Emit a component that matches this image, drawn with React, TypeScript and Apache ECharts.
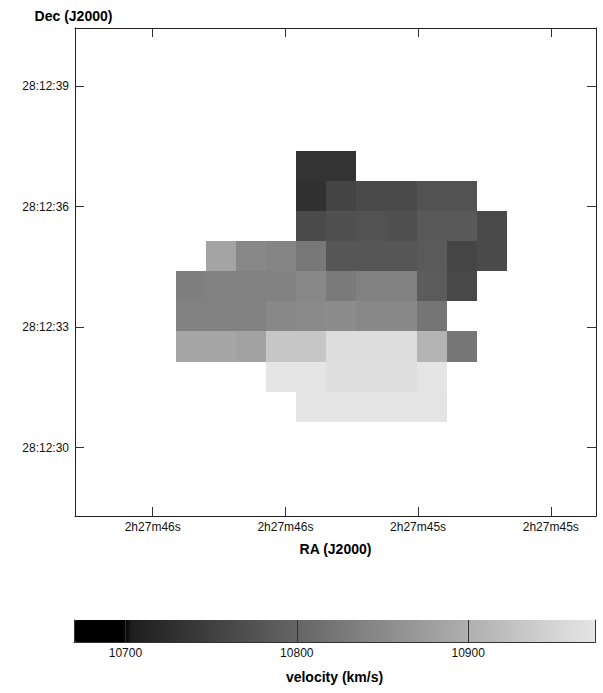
import React, { useEffect, useRef } from 'react';
import * as echarts from 'echarts';

// ---- axis ticks ----
const raTickValues = [45.75, 45.5, 45.25, 45.0];
const raTickLabels = ['2h27m46s', '2h27m46s', '2h27m45s', '2h27m45s'];
const decTickValues = [30, 33, 36, 39];
const decTickLabels = ['28:12:30', '28:12:33', '28:12:36', '28:12:39'];
const velocityTickValues = [10700, 10800, 10900];
const velocityTickLabels = ['10700', '10800', '10900'];

// ---- pixel grid (RA seconds of 2h27m, Dec arcsec of 28:12) ----
const RA_COL0 = 45.6783; // centre of column 0
const DEC_ROW0 = 37.019; // centre of row 0
const PIX_RA = 0.05674; // seconds of time per pixel
const PIX_DEC = 0.75; // arcsec per pixel

// velocity (km/s), rows top->bottom, columns left(east)->right(west)
const velocityRow0 = [null, null, null, null, 10733, 10733, null, null, null, null, null];
const velocityRow1 = [null, null, null, null, 10729, 10756, 10764, 10764, 10774, 10774, null];
const velocityRow2 = [null, null, null, null, 10764, 10772, 10774, 10772, 10783, 10783, 10764];
const velocityRow3 = [null, 10885, 10847, 10843, 10826, 10779, 10779, 10779, 10785, 10757, 10764];
const velocityRow4 = [10835, 10837, 10837, 10837, 10847, 10828, 10837, 10837, 10788, 10761, null];
const velocityRow5 = [10837, 10837, 10837, 10847, 10850, 10853, 10847, 10847, 10822, null, null];
const velocityRow6 = [10888, 10888, 10882, 10931, 10931, 10962, 10962, 10962, 10907, 10824, null];
const velocityRow7 = [null, null, null, 10973, 10973, 10965, 10965, 10965, 10973, null, null];
const velocityRow8 = [null, null, null, null, 10971, 10971, 10971, 10971, 10971, null, null];
const velocityRows = [
  velocityRow0, velocityRow1, velocityRow2, velocityRow3, velocityRow4,
  velocityRow5, velocityRow6, velocityRow7, velocityRow8,
];

const VMIN = 10670;
const VMAX = 10974;

function grayOf(v: number) {
  if (v < 10701.7) return 0;
  return Math.min(255, Math.round(28 + (v - 10701.7) * 0.7415));
}
const colorStops: string[] = [];
for (let i = 0; i <= 152; i++) {
  const g = grayOf(VMIN + ((VMAX - VMIN) * i) / 152);
  colorStops.push(`rgb(${g},${g},${g})`);
}

const FONT = '"Liberation Sans", Arial, Helvetica, sans-serif';
const FRAME = '#222';

function labelFor(values: number[], labels: string[]) {
  return (v: number) => {
    const i = values.findIndex((t) => Math.abs(t - v) < 1e-6);
    return i >= 0 ? labels[i] : '';
  };
}

export default function App() {
  const ref = useRef<HTMLDivElement>(null);
  useEffect(() => {
    if (!ref.current) return;
    const chart = echarts.init(ref.current, undefined, { renderer: 'svg' });

    const data: number[][] = [];
    velocityRows.forEach((row, i) => {
      row.forEach((v, j) => {
        if (v !== null) data.push([RA_COL0 - j * PIX_RA, DEC_ROW0 - i * PIX_DEC, v as number]);
      });
    });

    const frameAxisBase = {
      axisLine: { show: true, lineStyle: { color: FRAME, width: 1 } },
      splitLine: { show: false },
    };

    chart.setOption({
      animation: false,
      backgroundColor: '#fff',
      textStyle: { fontFamily: FONT },
      grid: [
        { left: 75, top: 28, width: 521, height: 488, show: false },
        { left: 74, top: 620, width: 521, height: 22, show: false },
      ],
      xAxis: [
        {
          ...frameAxisBase,
          gridIndex: 0,
          type: 'value',
          inverse: true,
          position: 'bottom',
          min: 44.9148,
          max: 45.8964,
          axisTick: { show: true, inside: true, length: 9, customValues: raTickValues, lineStyle: { color: '#333' } },
          axisLabel: {
            show: true,
            customValues: raTickValues,
            formatter: labelFor(raTickValues, raTickLabels),
            color: '#111',
            fontSize: 12,
            fontFamily: FONT,
            margin: 5,
          },
          name: 'RA (J2000)',
          nameLocation: 'middle',
          nameGap: 26,
          nameTextStyle: { fontWeight: 'bold', fontSize: 14, color: '#000', fontFamily: FONT },
        },
        {
          ...frameAxisBase,
          gridIndex: 0,
          type: 'value',
          inverse: true,
          position: 'top',
          min: 44.9148,
          max: 45.8964,
          axisTick: { show: true, inside: true, length: 9, customValues: raTickValues, lineStyle: { color: '#333' } },
          axisLabel: { show: false },
        },
        {
          gridIndex: 1,
          type: 'value',
          position: 'bottom',
          min: VMIN,
          max: VMAX,
          z: 10,
          axisLine: { show: true, lineStyle: { color: '#333', width: 1 } },
          splitLine: { show: false },
          axisTick: { show: true, inside: true, length: 22, customValues: velocityTickValues, lineStyle: { color: '#333' } },
          axisLabel: {
            show: true,
            customValues: velocityTickValues,
            formatter: labelFor(velocityTickValues, velocityTickLabels),
            color: '#111',
            fontSize: 12,
            fontFamily: FONT,
            margin: 5,
          },
          name: 'velocity (km/s)',
          nameLocation: 'middle',
          nameGap: 28,
          nameTextStyle: { fontWeight: 'bold', fontSize: 14, color: '#000', fontFamily: FONT },
        },
        {
          gridIndex: 1,
          type: 'value',
          position: 'top',
          min: VMIN,
          max: VMAX,
          z: 10,
          axisLine: { show: true, lineStyle: { color: '#333', width: 1 } },
          splitLine: { show: false },
          axisTick: { show: false },
          axisLabel: { show: false },
        },
      ],
      yAxis: [
        {
          ...frameAxisBase,
          gridIndex: 0,
          type: 'value',
          position: 'left',
          min: 28.3,
          max: 40.45,
          axisTick: { show: true, inside: true, length: 9, customValues: decTickValues, lineStyle: { color: '#333' } },
          axisLabel: {
            show: true,
            customValues: decTickValues,
            formatter: labelFor(decTickValues, decTickLabels),
            color: '#111',
            fontSize: 12,
            fontFamily: FONT,
            margin: 6,
          },
          name: 'Dec (J2000)',
          nameLocation: 'end',
          nameGap: 5,
          nameTextStyle: { fontWeight: 'bold', fontSize: 14, color: '#000', fontFamily: FONT, padding: [0, 3, 0, 0] },
        },
        {
          ...frameAxisBase,
          gridIndex: 0,
          type: 'value',
          position: 'right',
          min: 28.3,
          max: 40.45,
          axisTick: { show: true, inside: true, length: 9, customValues: decTickValues, lineStyle: { color: '#333' } },
          axisLabel: { show: false },
        },
        {
          gridIndex: 1,
          type: 'value',
          position: 'left',
          min: 0,
          max: 1,
          z: 10,
          axisLine: { show: true, lineStyle: { color: '#333', width: 1 } },
          splitLine: { show: false },
          axisTick: { show: false },
          axisLabel: { show: false },
        },
        {
          gridIndex: 1,
          type: 'value',
          position: 'right',
          min: 0,
          max: 1,
          z: 10,
          axisLine: { show: true, lineStyle: { color: '#333', width: 1 } },
          splitLine: { show: false },
          axisTick: { show: false },
          axisLabel: { show: false },
        },
      ],
      visualMap: {
        type: 'continuous',
        orient: 'horizontal',
        min: VMIN,
        max: VMAX,
        dimension: 2,
        seriesIndex: 0,
        left: 74,
        top: 620,
        itemWidth: 22,
        itemHeight: 521,
        padding: 0,
        calculable: false,
        hoverLink: false,
        inRange: { color: colorStops },
        z: 2,
      },
      series: [
        {
          type: 'custom',
          xAxisIndex: 0,
          yAxisIndex: 0,
          encode: { x: 0, y: 1 },
          clip: true,
          data,
          renderItem: (_params: any, api: any) => {
            const ra = api.value(0);
            const dec = api.value(1);
            const p1 = api.coord([ra + PIX_RA / 2, dec + PIX_DEC / 2]);
            const p2 = api.coord([ra - PIX_RA / 2, dec - PIX_DEC / 2]);
            const x0 = Math.round(Math.min(p1[0], p2[0]));
            const x1 = Math.round(Math.max(p1[0], p2[0]));
            const y0 = Math.round(Math.min(p1[1], p2[1]));
            const y1 = Math.round(Math.max(p1[1], p2[1]));
            return {
              type: 'rect',
              shape: { x: x0, y: y0, width: x1 - x0, height: y1 - y0 },
              style: { fill: api.visual('color'), stroke: null },
            };
          },
        },
      ],
    });
    return () => chart.dispose();
  }, []);
  return (
    <div
      ref={ref}
      style={{ position: 'fixed', left: 0, top: 0, width: 603, height: 693, background: '#fff' }}
    />
  );
}
